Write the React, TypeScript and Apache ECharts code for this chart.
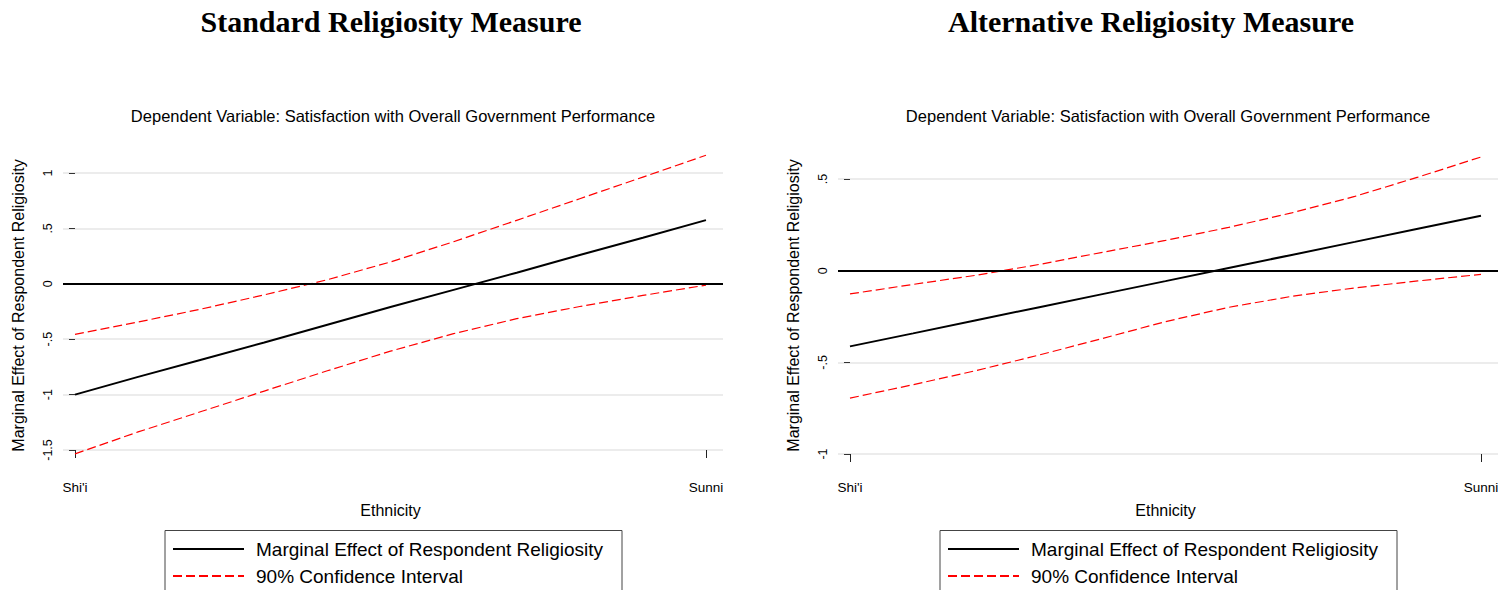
import React, { useEffect, useRef } from "react";
import * as echarts from "echarts";

// ---- Data ----
const xPos = [0, 0.1, 0.2, 0.3, 0.4, 0.5, 0.6, 0.7, 0.8, 0.9, 1];
const xTickValues = [0, 1];
const xTickLabels = ["Shi'i", "Sunni"];

const stdEffect = [-1.0, -0.84, -0.685, -0.53, -0.37, -0.21, -0.055, 0.1, 0.26, 0.415, 0.575];
const stdUpper = [-0.457, -0.345, -0.228, -0.1, 0.037, 0.197, 0.38, 0.573, 0.768, 0.963, 1.16];
const stdLower = [-1.535, -1.337, -1.153, -0.968, -0.785, -0.608, -0.45, -0.315, -0.205, -0.105, -0.012];

const altEffect = [-0.413, -0.342, -0.27, -0.199, -0.128, -0.057, 0.015, 0.086, 0.157, 0.229, 0.3];
const altUpper = [-0.127, -0.075, -0.025, 0.034, 0.1, 0.165, 0.236, 0.315, 0.405, 0.51, 0.62];
const altLower = [-0.695, -0.622, -0.545, -0.46, -0.37, -0.278, -0.2, -0.14, -0.094, -0.056, -0.02];

const stdYTickValues = [-1.5, -1, -0.5, 0, 0.5, 1];
const stdYTickLabels = ["-1.5", "-1", "-.5", "0", ".5", "1"];
const altYTickValues = [-1, -0.5, 0, 0.5];
const altYTickLabels = ["-1", "-.5", "0", ".5"];

const panelTitles = ["Standard Religiosity Measure", "Alternative Religiosity Measure"];
const subTitle = "Dependent Variable: Satisfaction with Overall Government Performance";
const yTitle = "Marginal Effect of Respondent Religiosity";
const xTitle = "Ethnicity";
const nameME = "Marginal Effect of Respondent Religiosity";
const nameCI = "90% Confidence Interval";

const SANS = "'Liberation Sans', Arial, sans-serif";
const SERIF = "'Liberation Serif', 'Times New Roman', serif";

const zip = (xs: number[], ys: number[]) => xs.map((x, i) => [x, ys[i]]);

// Data x axis (hidden), spanning the full plot region incl. margins
function makeDataX(gridIndex: number) {
  return {
    type: "value",
    gridIndex,
    min: -0.019,
    max: 1.027,
    show: false,
  };
}

// Tick x axis, on a grid that spans exactly the data range 0..1
function makeTickX(gridIndex: number, offset: number) {
  return {
    type: "value",
    gridIndex,
    min: 0,
    max: 1,
    interval: 1,
    offset,
    name: xTitle,
    nameLocation: "middle",
    nameGap: 36,
    nameTextStyle: { fontFamily: SANS, fontSize: 16, color: "#000" },
    axisLine: { show: false },
    splitLine: { show: false },
    axisTick: { show: true, inside: false, length: 8, lineStyle: { color: "#222", width: 1 } },
    axisLabel: {
      margin: 14,
      fontFamily: SANS,
      fontSize: 13.5,
      color: "#000",
      showMinLabel: true,
      showMaxLabel: true,
      formatter: (v: number) => xTickLabels[xTickValues.indexOf(v)] ?? "",
    },
  };
}

function makeY(gridIndex: number, min: number, max: number, vals: number[], labels: string[]) {
  return {
    type: "value",
    gridIndex,
    min,
    max,
    interval: 0.5,
    axisLine: { show: false },
    axisTick: { show: true, length: 6, lineStyle: { color: "#333", width: 1 } },
    splitLine: { show: true, lineStyle: { color: "#e6e6e6", width: 1.5 } },
    axisLabel: {
      rotate: 90,
      margin: 9,
      fontFamily: SANS,
      fontSize: 12.5,
      color: "#000",
      formatter: (v: number) => {
        const i = vals.findIndex((t) => Math.abs(t - v) < 1e-9);
        return i >= 0 ? labels[i] : "";
      },
    },
  };
}

function hiddenY(gridIndex: number) {
  return { type: "value", gridIndex, min: 0, max: 1, show: false, splitLine: { show: false } };
}

function panelSeries(idx: number, me: number[], up: number[], lo: number[]) {
  const base = { type: "line", xAxisIndex: idx, yAxisIndex: idx, symbol: "none", clip: false, silent: true };
  const dash = { color: "#ff0000", width: 1.2, type: [9, 4] };
  return [
    {
      ...base,
      name: nameME,
      data: zip(xPos, me),
      lineStyle: { color: "#000", width: 2, type: "solid" },
      itemStyle: { color: "#000" },
      z: 5,
      markLine: {
        silent: true,
        symbol: "none",
        label: { show: false },
        lineStyle: { color: "#000", width: 2, type: "solid" },
        data: [{ yAxis: 0 }],
      },
    },
    { ...base, name: nameCI, data: zip(xPos, up), lineStyle: dash, itemStyle: { color: "#ff0000" } },
    { ...base, name: nameCI, data: zip(xPos, lo), lineStyle: dash, itemStyle: { color: "#ff0000" } },
  ];
}

function makeLegend(left: number) {
  return {
    left,
    top: 538,
    width: 460,
    height: 60,
    orient: "vertical",
    itemWidth: 71,
    itemHeight: 14,
    itemGap: 5,
    selectedMode: false,
    padding: 0,
    data: [nameME, nameCI],
    itemStyle: { color: "transparent", borderColor: "transparent", borderWidth: 0, opacity: 0 },
    textStyle: { fontFamily: SANS, fontSize: 19, lineHeight: 22, color: "#000", padding: [0, 0, 0, 7] },
  };
}

export default function App() {
  const ref = useRef<HTMLDivElement>(null);
  useEffect(() => {
    if (!ref.current) return;
    const chart = echarts.init(ref.current, null, { renderer: "svg" });
    chart.setOption({
      animation: false,
      backgroundColor: "#fff",
      grid: [
        { left: 63, width: 660, top: 173, height: 277 },
        { left: 838, width: 660, top: 179, height: 275 },
        { left: 75, width: 631, top: 173, height: 277 },
        { left: 850, width: 631, top: 179, height: 275 },
      ],
      xAxis: [makeDataX(0), makeDataX(1), makeTickX(2, 16), makeTickX(3, 12)],
      yAxis: [
        makeY(0, -1.5, 1, stdYTickValues, stdYTickLabels),
        makeY(1, -1, 0.5, altYTickValues, altYTickLabels),
        hiddenY(2),
        hiddenY(3),
      ],
      legend: [makeLegend(172), makeLegend(947)],
      series: [
        ...panelSeries(0, stdEffect, stdUpper, stdLower),
        ...panelSeries(1, altEffect, altUpper, altLower),
      ],
      graphic: [
        { type: "rect", shape: { x: 165, y: 530.5, width: 457, height: 80 }, style: { fill: "none", stroke: "#444", lineWidth: 1 } },
        { type: "rect", shape: { x: 940, y: 530.5, width: 457, height: 80 }, style: { fill: "none", stroke: "#444", lineWidth: 1 } },
        { type: "text", x: 391, y: 21, style: { text: panelTitles[0], align: "center", verticalAlign: "middle", font: `bold 30px ${SERIF}`, fill: "#000" } },
        { type: "text", x: 1151, y: 21, style: { text: panelTitles[1], align: "center", verticalAlign: "middle", font: `bold 30px ${SERIF}`, fill: "#000" } },
        { type: "text", x: 393, y: 116, style: { text: subTitle, align: "center", verticalAlign: "middle", font: `16.5px ${SANS}`, fill: "#000" } },
        { type: "text", x: 1168, y: 116, style: { text: subTitle, align: "center", verticalAlign: "middle", font: `16.5px ${SANS}`, fill: "#000" } },
        { type: "text", x: 18, y: 305.5, rotation: Math.PI / 2, style: { text: yTitle, align: "center", verticalAlign: "middle", font: `16px ${SANS}`, fill: "#000" } },
        { type: "text", x: 793, y: 305.5, rotation: Math.PI / 2, style: { text: yTitle, align: "center", verticalAlign: "middle", font: `16px ${SANS}`, fill: "#000" } },
      ],
    });
    return () => chart.dispose();
  }, []);
  return (
    <div
      ref={ref}
      style={{ position: "fixed", left: 0, top: 0, width: 1505, height: 590, background: "#fff" }}
    />
  );
}
